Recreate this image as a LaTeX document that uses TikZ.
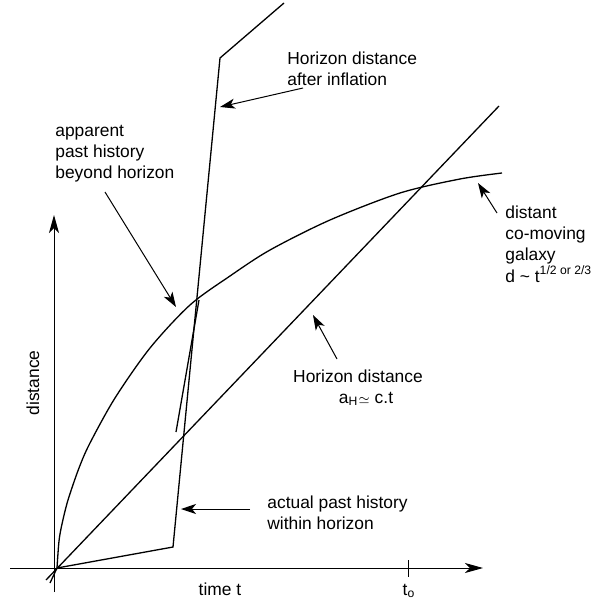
\documentclass[tikz,border=0pt]{standalone}
\usepackage{fontspec}
\setmainfont{Liberation Sans}
\usetikzlibrary{arrows.meta}

\begin{document}
\begin{tikzpicture}[
    x=0.5pt, y=-0.5pt,
    font=\fontsize{8.7}{10.6}\selectfont,
    % Line styles
    axis/.style={line width=0.5pt, -{Stealth[length=9pt, width=5pt, inset=2.5pt]}},
    track/.style={line width=0.65pt},
    pointer/.style={line width=0.5pt, -{Stealth[length=7.5pt, width=5pt, inset=2pt]}},
    % Text styles
    label/.style={inner sep=0pt, align=left, anchor=north west},
]
    \useasboundingbox (0,0) rectangle (597,600);

    % Axes
    \coordinate (xstart) at (10,568);
    \coordinate (xend) at (483,568);
    \coordinate (ystart) at (54,592);
    \coordinate (yend) at (54,215);
    \draw[axis] (xstart) -- (xend);
    \draw[axis] (ystart) -- (yend);
    \coordinate (tickTop) at (408,560);
    \coordinate (tickBot) at (408,577);
    \draw[line width=0.5pt] (tickTop) -- (tickBot);

    \node[inner sep=0pt] (timeLabel) at (220,589) {time t};
    \node[inner sep=0pt] (nowLabel) at (409,591) {t\textsubscript{o}};
    \node[inner sep=0pt, rotate=90] (distLabel) at (33,383) {distance};

    % Distant galaxy
    \draw[track] plot[smooth] coordinates {(57,568) (59,541) (62,524) (68,500) (79,468)
        (90,443) (115,398) (150,348) (190,305) (230,276) (270,250) (330,220)
        (400,193) (460,179) (502,173)};

    % Horizon distance a_H = c.t
    \coordinate (hStart) at (46,580);
    \coordinate (hEnd) at (499,106);
    \draw[track] (hStart) -- (hEnd);

    % Horizon with inflation
    \coordinate (iStart) at (50,583);
    \coordinate (origin) at (57,568);
    \coordinate (iLow) at (173,547);
    \coordinate (iHigh) at (220,58);
    \coordinate (iEnd) at (284,3);
    \draw[track] (iStart) -- (origin) -- (iLow) -- (iHigh) -- (iEnd);

    % Apparent history
    \coordinate (aLow) at (176,432);
    \coordinate (aHigh) at (199,300);
    \draw[track] (aLow) -- (aHigh);

    % Labels
    \node[label] (inflLabel) at (287,51.5) {Horizon distance\\after inflation};
    \node[label] (apparentLabel) at (55,124.5) {apparent\\past history\\beyond horizon};
    \node[label] (galaxyLabel) at (505,205.5)
        {distant\\co-moving\\galaxy\\d \textasciitilde{} t\textsuperscript{1/2 or 2/3}};
    \node[inner sep=0pt, align=center, anchor=north] (horizonLabel) at (358,369.5)
        {Horizon distance\\\hspace*{8pt}a\textsubscript{H}{\fontsize{6}{6}\selectfont$\simeq$} c.t};
    \node[label] (actualLabel) at (267,495.5) {actual past history\\within horizon};

    % Pointers
    \coordinate (inflTail) at (303,88);
    \coordinate (inflTip) at (220,107);
    \coordinate (apparentTail) at (105,192);
    \coordinate (apparentTip) at (176,307);
    \coordinate (galaxyTail) at (497,213);
    \coordinate (galaxyTip) at (478,183);
    \coordinate (horizonTail) at (337,359);
    \coordinate (horizonTip) at (313,315);
    \coordinate (actualTail) at (250,509);
    \coordinate (actualTip) at (181,509);
    \draw[pointer] (inflTail) -- (inflTip);
    \draw[pointer] (apparentTail) -- (apparentTip);
    \draw[pointer] (galaxyTail) -- (galaxyTip);
    \draw[pointer] (horizonTail) -- (horizonTip);
    \draw[pointer] (actualTail) -- (actualTip);

\end{tikzpicture}
\end{document}
